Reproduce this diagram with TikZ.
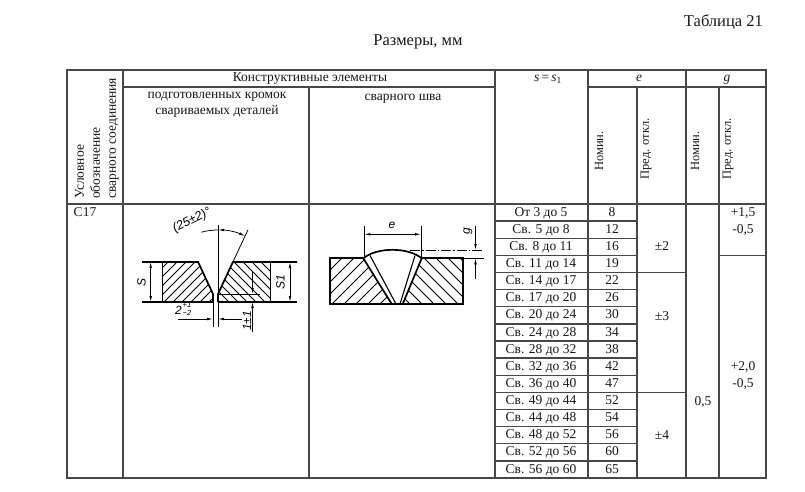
\documentclass[tikz,border=0pt]{standalone}
\usepackage{fontspec}
\setmainfont{Liberation Serif}
\setsansfont{Liberation Sans}
\usetikzlibrary{arrows.meta}
\begin{document}
\begin{tikzpicture}[x=1pt,y=-1pt,
  gridline/.style={line width=1.3pt,draw=black!72},
  tt/.style={font=\fontsize{13.5}{16}\selectfont,inner sep=0pt,text=black!90},
  cell/.style={tt,text height=9.3pt,text depth=3pt},
  small/.style={font=\fontsize{12.5}{14}\selectfont,inner sep=0pt,text=black!90},
  titletxt/.style={font=\fontsize{16.5}{18}\selectfont,inner sep=0pt,text=black!90},
  contour/.style={line width=1.7pt,line join=miter},
  thinline/.style={line width=0.8pt},
  dim/.style={line width=0.75pt},
  dimarr/.style={dim,-{Latex[length=6pt,width=2.6pt]}},
  dimboth/.style={dim,{Latex[length=6pt,width=2.6pt]}-{Latex[length=6pt,width=2.6pt]}},
  hatchline/.style={line width=0.95pt},
  lbl/.style={font=\sffamily\itshape\fontsize{12}{12}\selectfont,inner sep=0pt},
  tinylbl/.style={font=\sffamily\itshape\fontsize{7.5}{8}\selectfont,inner sep=0pt}
]
\useasboundingbox (0,0) rectangle (805,492);
\fill[white] (0,0) rectangle (805,492);

% titles
\node[titletxt,anchor=east] (tab) at (763,22) {Таблица 21};
\node[titletxt] (dims) at (418,42) {Размеры, мм};

% ---------- table grid ----------
\def\rh{17.125}
\draw[gridline] (67,70) rectangle (766,478);
\draw[gridline] (123,70) -- (123,478);
\draw[gridline] (309,87) -- (309,478);
\draw[gridline] (495,70) -- (495,478);
\draw[gridline] (588,70) -- (588,478);
\draw[gridline] (637,87) -- (637,478);
\draw[gridline] (686,70) -- (686,478);
\draw[gridline] (719,87) -- (719,478);
\draw[gridline] (123,87) -- (495,87);
\draw[gridline] (588,87) -- (766,87);
\draw[gridline] (67,204) -- (766,204);
\foreach \i in {1,...,15}
  \draw[gridline] (495,204+\i*\rh) -- (637,204+\i*\rh);
\draw[gridline] (637,204+4*\rh) -- (686,204+4*\rh);
\draw[gridline] (637,204+11*\rh) -- (686,204+11*\rh);
\draw[gridline] (719,204+3*\rh) -- (766,204+3*\rh);

% header texts
\node[tt,rotate=90,anchor=west,align=left] (hcol1) at (97,199)
  {Условное\\обозначение\\сварного соединения};
\node[cell] (hkon) at (310,78.5) {Конструктивные элементы};
\node[tt,align=center] (hkrom) at (217,104.5) {подготовленных кромок\\свариваемых деталей};
\node[cell] (hsh) at (403,97.5) {сварного шва};
\node[cell] (hs) at (548,78.5) {\textit{s}\,=\,\textit{s}\textsubscript{1}};
\node[cell] (he) at (639,78.5) {\textit{e}};
\node[cell] (hg) at (727,78.5) {\textit{g}};
\node[small,rotate=90] (hn1) at (599,151) {Номин.};
\node[small,rotate=90] (hp1) at (646,149) {Пред. откл.};
\node[small,rotate=90] (hn2) at (695,151) {Номин.};
\node[small,rotate=90] (hp2) at (728,149) {Пред. откл.};

% data
\node[cell] (c17) at (85,213) {С17};
\foreach \s [count=\i] in {От 3 до 5,Св. 5 до 8,Св. 8 до 11,Св. 11 до 14,Св. 14 до 17,Св. 17 до 20,Св. 20 до 24,Св. 24 до 28,Св. 28 до 32,Св. 32 до 36,Св. 36 до 40,Св. 49 до 44,Св. 44 до 48,Св. 48 до 52,Св. 52 до 56,Св. 56 до 60}
  \node[cell] (s\i) at (541,204.5+\i*\rh-0.5*\rh) {\s};
\foreach \v [count=\i] in {8,12,16,19,22,26,30,34,38,42,47,52,54,56,60,65}
  \node[cell] (en\i) at (612,204.5+\i*\rh-0.5*\rh) {\v};
\node[cell] (ep1) at (662,247) {±2};
\node[cell] (ep2) at (662,317) {±3};
\node[cell] (ep3) at (662,436) {±4};
\node[cell] (gn) at (703,402) {0,5};
\node[cell] (gp1a) at (743,213) {+1,5};
\node[cell] (gp1b) at (743,230) {-0,5};
\node[cell] (gp2a) at (743,367) {+2,0};
\node[cell] (gp2b) at (743,384) {-0,5};

% ---------- left drawing: prepared edges ----------
\begin{scope}
  \clip (162,262) -- (198.1,262) -- (213,294) -- (213,302) -- (162,302) -- cycle;
  \foreach \k in {110,119,...,230} \draw[hatchline] (\k,302) -- ++(50,-50);
\end{scope}
\begin{scope}
  \clip (218,294) -- (232.9,262) -- (270,262) -- (270,302) -- (218,302) -- cycle;
  \foreach \k in {170,179,...,290} \draw[hatchline] (\k,252) -- ++(50,50);
\end{scope}
\draw[thinline] (162,262) -- (162,302);
\draw[thinline] (270,262) -- (270,302);
\draw[contour] (142,262) -- (198.1,262) -- (213,294) -- (213,302);
\draw[contour] (142,302) -- (213,302);
\draw[contour] (297,262) -- (232.9,262) -- (218,294) -- (218,302);
\draw[contour] (218,302) -- (297,302);
\draw[thinline] (232.9,262) -- (248,229.7);
\draw[thinline] (218,225) -- (218,294);
\draw[thinline] (218,302) -- (218,327);
\draw[thinline] (213,302) -- (213,327);
\draw[thinline] (218,294) -- (260,294);
% dimension s
\coordinate (sA) at (150.7,262);
\coordinate (sB) at (150.7,302);
\draw[dimboth] (sA) -- (sB);
\node[lbl,rotate=90] (lS) at (141.5,282) {S};
\coordinate (s1A) at (290,262);
\coordinate (s1B) at (290,302);
\draw[dimboth] (s1A) -- (s1B);
\node[lbl,rotate=90] (lS1) at (280.5,282) {S1};
% angle
\draw[dim] (218,294) ++(-105:64) arc[start angle=-105,end angle=-90,radius=64];
\draw[dimboth] (218,294) ++(-90:64) arc[start angle=-90,end angle=-65,radius=64];
\node[lbl,rotate=27,font=\sffamily\itshape\fontsize{12.5}{12}\selectfont] (lang) at (192,220.5) {(25±2)°};
% gap 2
\coordinate (gL) at (178,319);
\coordinate (gL2) at (213,319);
\coordinate (gR) at (242,319);
\coordinate (gR2) at (218,319);
\draw[dimarr] (gL) -- (gL2);
\draw[dimarr] (gR) -- (gR2);
\node[lbl] (lgap) at (178.5,310.5) {2};
\node[tinylbl,anchor=west] (lgapup) at (182.5,304.5) {+1};
\node[tinylbl,anchor=west] (lgapdn) at (182.5,313) {−2};
% root face 1±1
\coordinate (rT) at (252.5,272);
\coordinate (rT2) at (252.5,294);
\coordinate (rB) at (252.5,332);
\coordinate (rB2) at (252.5,302);
\draw[dimarr] (rT) -- (rT2);
\draw[dimarr] (rB) -- (rB2);
\node[lbl,rotate=90] (lroot) at (247,321) {1±1};

% ---------- right drawing: weld ----------
\begin{scope}
  \clip (330,258.3) -- (363.3,258.3) -- (391.7,304) -- (330,304) -- cycle;
  \foreach \k in {260,272,...,400} \draw[hatchline] (\k,304) -- ++(60,-60);
\end{scope}
\begin{scope}
  \clip (421.7,258.3) -- (463.3,258.3) -- (463.3,304) -- (402.7,304) -- cycle;
  \foreach \k in {350,362,...,470} \draw[hatchline] (\k,256) -- ++(60,60);
\end{scope}
\draw[contour] (363.3,258.3) -- (330,258.3) -- (330,304) -- (463.3,304) -- (463.3,258.3) -- (421.7,258.3);
\draw[contour] (363.3,258.3) .. controls (377,247) and (408,247) .. (421.7,258.3);
\draw[contour] (363.3,258.3) -- (391.7,304);
\draw[contour] (421.7,258.3) -- (402.7,304);
\draw[thinline,line width=1.1pt] (370,255.5) -- (396,304);
\draw[thinline,line width=1.1pt] (415,255.5) -- (400,304);
% e dimension
\draw[thinline] (364.3,226) -- (364.3,258.3);
\draw[thinline] (421,226) -- (421,258.3);
\coordinate (eA) at (364.3,234.3);
\coordinate (eB) at (421,234.3);
\draw[dimboth] (eA) -- (eB);
\node[lbl] (le) at (392,225) {e};
% g dimension
\draw[dim,dash pattern=on 10pt off 2pt on 1.5pt off 2pt] (410,250) -- (484,250);
\draw[dim] (463.3,258.3) -- (484,258.3);
\coordinate (gT) at (475.5,226);
\coordinate (gT2) at (475.5,250);
\coordinate (gB) at (475.5,279);
\coordinate (gB2) at (475.5,258.3);
\draw[dimarr] (gT) -- (gT2);
\draw[dimarr] (gB) -- (gB2);
\node[lbl,rotate=90] (lg) at (468,231) {g};
\end{tikzpicture}
\end{document}
